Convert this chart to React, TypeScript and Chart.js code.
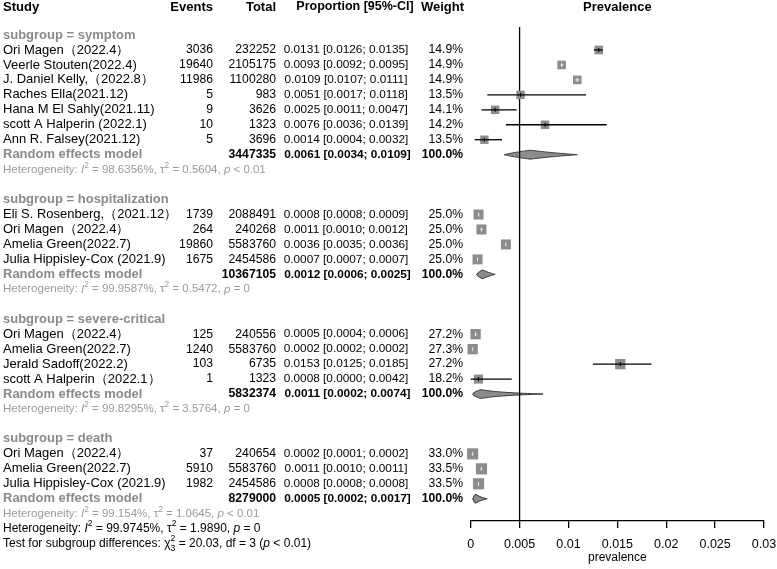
import React, { useEffect, useRef } from "react";
import { Chart, registerables } from "chart.js";

Chart.register(...registerables);

// ---------------- data ----------------
const GROUP_TITLES = ["symptom", "hospitalization", "severe-critical", "death"];

const STUDY_NAMES = [
  "Ori Magen（2022.4）",
  "Veerle Stouten(2022.4)",
  "J. Daniel Kelly,（2022.8）",
  "Raches Ella(2021.12)",
  "Hana M El Sahly(2021.11)",
  "scott A Halperin (2022.1)",
  "Ann R. Falsey(2021.12)",
  "Eli S. Rosenberg,（2021.12）",
  "Ori Magen（2022.4）",
  "Amelia Green(2022.7)",
  "Julia Hippisley-Cox (2021.9)",
  "Ori Magen（2022.4）",
  "Amelia Green(2022.7)",
  "Jerald Sadoff(2022.2)",
  "scott A Halperin（2022.1）",
  "Ori Magen（2022.4）",
  "Amelia Green(2022.7)",
  "Julia Hippisley-Cox (2021.9)",
];
const STUDY_GROUP = [0, 0, 0, 0, 0, 0, 0, 1, 1, 1, 1, 2, 2, 2, 2, 3, 3, 3];
const EVENTS = [3036, 19640, 11986, 5, 9, 10, 5, 1739, 264, 19860, 1675, 125, 1240, 103, 1, 37, 5910, 1982];
const TOTALS = [232252, 2105175, 1100280, 983, 3626, 1323, 3696, 2088491, 240268, 5583760, 2454586, 240556, 5583760, 6735, 1323, 240654, 5583760, 2454586];
const PROPS = [0.0131, 0.0093, 0.0109, 0.0051, 0.0025, 0.0076, 0.0014, 0.0008, 0.0011, 0.0036, 0.0007, 0.0005, 0.0002, 0.0153, 0.0008, 0.0002, 0.0011, 0.0008];
const LOWER = [0.0126, 0.0092, 0.0107, 0.0017, 0.0011, 0.0036, 0.0004, 0.0008, 0.001, 0.0035, 0.0007, 0.0004, 0.0002, 0.0125, 0.0, 0.0001, 0.001, 0.0008];
const UPPER = [0.0135, 0.0095, 0.0111, 0.0118, 0.0047, 0.0139, 0.0032, 0.0009, 0.0012, 0.0036, 0.0007, 0.0006, 0.0002, 0.0185, 0.0042, 0.0002, 0.0011, 0.0008];
const WEIGHTS = [14.9, 14.9, 14.9, 13.5, 14.1, 14.2, 13.5, 25.0, 25.0, 25.0, 25.0, 27.2, 27.3, 27.2, 18.2, 33.0, 33.5, 33.5];

const RE_TOTALS = [3447335, 10367105, 5832374, 8279000];
const RE_EST = [0.0061, 0.0012, 0.0011, 0.0005];
const RE_LOWER = [0.0034, 0.0006, 0.0002, 0.0002];
const RE_UPPER = [0.0109, 0.0025, 0.0074, 0.0017];

const HET_I2 = ["98.6356%", "99.9587%", "99.8295%", "99.154%"];
const HET_TAU2 = ["0.5604", "0.5472", "3.5764", "1.0645"];
const HET_P = ["< 0.01", "= 0", "= 0", "< 0.01"];

const OVERALL_I2 = "99.9745%";
const OVERALL_TAU2 = "1.9890";
const OVERALL_P = "= 0";
const TEST_CHI2 = "20.03";
const TEST_DF = "3";
const TEST_P = "< 0.01";

const X_TICKS = [0, 0.005, 0.01, 0.015, 0.02, 0.025, 0.03];
const X_TICK_LABELS = ["0", "0.005", "0.01", "0.015", "0.02", "0.025", "0.03"];
const REF_VALUE = 0.005;

// ---------------- style / layout ----------------
const FONT = '"Liberation Sans", Arial, Helvetica, sans-serif';
const FS_NAME = 13;
const FS_NUM = 12.2;
const FS_PROP = 11.8;
const FS_HET = 11.5;
const GRAY_TITLE = "#8a8a8a";
const GRAY_HET = "#9a9a9a";
const BOX_FILL = "#8c8c8c";
const Y_MIN = -0.535;
const Y_MAX = 32.487;
const HEADER_ROW = -1.87;

// row assignment
const titleRow: number[] = [];
const reRow: number[] = [];
const hetRow: number[] = [];
const studyRow: number[] = [];
let rr = 0;
GROUP_TITLES.forEach((_, g) => {
  titleRow[g] = rr++;
  STUDY_GROUP.forEach((sg, i) => {
    if (sg === g) studyRow[i] = rr++;
  });
  reRow[g] = rr++;
  hetRow[g] = rr++;
  if (g < GROUP_TITLES.length - 1) rr++;
});
const overallRow = rr;
const testRow = rr + 1;

const sqSide = (w: number) => 6.5 + 0.14 * w;
const isInside = (ciPx: number, i: number) => ciPx < sqSide(WEIGHTS[i]) - 1;

type Run = { t: string; i?: boolean; b?: boolean; sup?: boolean; sub?: string };

const logit = (p: number) => Math.log(p / (1 - p));
const invLogit = (l: number) => 1 / (1 + Math.exp(-l));

function diamondPoints(lo: number, est: number, hi: number, row: number, h: number) {
  const pts: { x: number; y: number }[] = [];
  const N = 24;
  const L0 = logit(lo), Le = logit(est), L1 = logit(hi);
  for (let k = 0; k <= N; k++) {
    const t = k / N;
    pts.push({ x: invLogit(L0 + t * (Le - L0)), y: row - h * t });
  }
  for (let k = 1; k <= N; k++) {
    const t = k / N;
    pts.push({ x: invLogit(Le + t * (L1 - Le)), y: row - h * (1 - t) });
  }
  for (let k = 1; k <= N; k++) {
    const t = k / N;
    pts.push({ x: invLogit(L1 + t * (Le - L1)), y: row + h * t });
  }
  for (let k = 1; k <= N; k++) {
    const t = k / N;
    pts.push({ x: invLogit(Le + t * (L0 - Le)), y: row + h * (1 - t) });
  }
  return pts;
}

export default function App() {
  const ref = useRef<HTMLCanvasElement>(null);

  useEffect(() => {
    document.body.style.margin = "0";
    const canvas = ref.current;
    if (!canvas) return;

    const ciData: any[] = [];
    STUDY_NAMES.forEach((_, i) => {
      ciData.push({ x: LOWER[i], y: studyRow[i] });
      ciData.push({ x: UPPER[i], y: studyRow[i] });
      ciData.push({ x: UPPER[i], y: null });
    });
    const pointData = STUDY_NAMES.map((_, i) => ({ x: PROPS[i], y: studyRow[i] }));

    const ciInside = (chart: any, i: number) => {
      const xs = chart.scales.x;
      const w = xs.getPixelForValue(UPPER[i]) - xs.getPixelForValue(LOWER[i]);
      return isInside(w, i);
    };

    const diamondSets = GROUP_TITLES.map((_, g) => ({
      type: "line" as const,
      data: diamondPoints(RE_LOWER[g], RE_EST[g], RE_UPPER[g], reRow[g], 0.3),
      borderColor: "#3a3a3a",
      borderWidth: 1,
      backgroundColor: BOX_FILL,
      fill: "shape" as any,
      pointRadius: 0,
      tension: 0,
      order: 4,
      clip: false as any,
    }));

    const tablePlugin = {
      id: "forestTable",
      afterDraw(chart: any) {
        const ctx: CanvasRenderingContext2D = chart.ctx;
        const ys = chart.scales.y;
        const xs = chart.scales.x;
        const Y = (r: number) => ys.getPixelForValue(r);
        ctx.save();
        ctx.textBaseline = "middle";

        const setFont = (bold: boolean, italic: boolean, size: number) => {
          ctx.font = `${italic ? "italic " : ""}${bold ? "bold " : ""}${size}px ${FONT}`;
        };
        const text = (s: string, x: number, y: number, align: CanvasTextAlign, bold: boolean, color: string, size: number) => {
          setFont(bold, false, size);
          ctx.fillStyle = color;
          ctx.textAlign = align;
          ctx.fillText(s, x, y);
        };
        const runs = (list: Run[], x: number, y: number, color: string, bold: boolean, size: number) => {
          ctx.fillStyle = color;
          ctx.textAlign = "left";
          let cx = x;
          for (const r of list) {
            if (r.sup) {
              const ss = size * 0.72;
              setFont(r.b ?? bold, !!r.i, ss);
              ctx.fillText(r.t, cx, y - size * 0.38);
              let w = ctx.measureText(r.t).width;
              if (r.sub) {
                ctx.fillText(r.sub, cx, y + size * 0.38);
                w = Math.max(w, ctx.measureText(r.sub).width);
              }
              cx += w;
            } else {
              setFont(r.b ?? bold, !!r.i, size);
              ctx.fillText(r.t, cx, y);
              cx += ctx.measureText(r.t).width;
            }
          }
        };
        const hetRuns = (i2: string, tau2: string, p: string): Run[] => [
          { t: "Heterogeneity: " },
          { t: "I", i: true },
          { t: "2", sup: true },
          { t: ` = ${i2}, ` },
          { t: "τ" },
          { t: "2", sup: true },
          { t: ` = ${tau2}, ` },
          { t: "p", i: true },
          { t: ` ${p}` },
        ];

        const xStudy = 3, xEvents = 213, xTotal = 276, xProp = 346, xWeight = 463;

        // header
        const hy = Y(HEADER_ROW);
        text("Study", xStudy, hy, "left", true, "#000", FS_NAME);
        text("Events", xEvents, hy, "right", true, "#000", FS_NAME);
        text("Total", xTotal, hy, "right", true, "#000", FS_NAME);
        text("Proportion [95%-CI]", 355, hy, "center", true, "#000", 12.5);
        text("Weight", xWeight + 1, hy, "right", true, "#000", FS_NAME);
        text("Prevalence", xs.getPixelForValue((xs.min + xs.max) / 2), hy, "center", true, "#000", FS_NAME);

        GROUP_TITLES.forEach((title, g) => {
          text(`subgroup = ${title}`, xStudy, Y(titleRow[g]), "left", true, GRAY_TITLE, FS_NAME);
          const ry = Y(reRow[g]);
          text("Random effects model", xStudy, ry, "left", true, GRAY_TITLE, FS_NAME);
          text(String(RE_TOTALS[g]), xTotal, ry, "right", true, "#000", FS_NUM);
          text(
            `${RE_EST[g].toFixed(4)} [${RE_LOWER[g].toFixed(4)}; ${RE_UPPER[g].toFixed(4)}]`,
            xProp + 1.5, ry, "center", true, "#000", FS_PROP
          );
          text("100.0%", xWeight, ry, "right", true, "#000", FS_NUM);
          runs(hetRuns(HET_I2[g], HET_TAU2[g], HET_P[g]), xStudy, Y(hetRow[g]), GRAY_HET, false, FS_HET);
        });

        STUDY_NAMES.forEach((name, i) => {
          const y = Y(studyRow[i]);
          text(name, xStudy, y, "left", false, "#000", FS_NAME);
          text(String(EVENTS[i]), xEvents, y, "right", false, "#000", FS_NUM);
          text(String(TOTALS[i]), xTotal, y, "right", false, "#000", FS_NUM);
          text(
            `${PROPS[i].toFixed(4)} [${LOWER[i].toFixed(4)}; ${UPPER[i].toFixed(4)}]`,
            xProp, y, "center", false, "#000", FS_PROP
          );
          text(`${WEIGHTS[i].toFixed(1)}%`, xWeight, y, "right", false, "#000", FS_NUM);
        });

        runs(hetRuns(OVERALL_I2, OVERALL_TAU2, OVERALL_P), xStudy, Y(overallRow), "#000", false, 12);
        runs(
          [
            { t: "Test for subgroup differences: " },
            { t: "χ" },
            { t: "2", sup: true, sub: TEST_DF },
            { t: ` = ${TEST_CHI2}, df = ${TEST_DF} (` },
            { t: "p", i: true },
            { t: ` ${TEST_P})` },
          ],
          xStudy, Y(testRow), "#000", false, 12
        );
        ctx.restore();
      },
    };

    const chart = new Chart(canvas, {
      type: "scatter",
      data: {
        datasets: [
          // point-estimate ticks (top)
          {
            type: "scatter",
            data: pointData,
            pointStyle: "line",
            rotation: 90,
            radius: 2,
            borderWidth: 1,
            borderColor: (c: any) => (ciInside(c.chart, c.dataIndex) ? "#e8e8e8" : "#000"),
            backgroundColor: "#000",
            order: 0,
            clip: false,
          } as any,
          // confidence interval lines
          {
            type: "line",
            data: ciData,
            borderColor: "#000",
            borderWidth: 1.3,
            pointRadius: 0,
            spanGaps: false,
            tension: 0,
            segment: {
              borderColor: (c: any) => {
                const i = Math.floor(c.p0DataIndex / 3);
                const w = c.p1.x - c.p0.x;
                return isInside(w, i) ? "#e8e8e8" : "#000";
              },
            },
            order: 1,
            clip: false,
          } as any,
          // weight boxes
          {
            type: "scatter",
            data: pointData,
            pointStyle: "rect",
            radius: (c: any) => sqSide(WEIGHTS[c.dataIndex]) / (2 * Math.SQRT1_2),
            backgroundColor: BOX_FILL,
            borderWidth: 0,
            borderColor: BOX_FILL,
            order: 2,
            clip: false,
          } as any,
          // reference line
          {
            type: "line",
            data: [
              { x: REF_VALUE, y: Y_MIN },
              { x: REF_VALUE, y: Y_MAX },
            ],
            borderColor: "#000",
            borderWidth: 1.3,
            pointRadius: 0,
            order: 3,
            clip: false,
          } as any,
          ...(diamondSets as any[]),
        ],
      },
      options: {
        responsive: false,
        animation: false,
        devicePixelRatio: 1,
        events: [],
        layout: { autoPadding: false, padding: { left: 470.7, right: 13, top: 27, bottom: 5 } },
        plugins: {
          legend: { display: false },
          tooltip: { enabled: false },
          title: { display: false },
        },
        scales: {
          x: {
            type: "linear",
            position: "bottom",
            min: 0,
            max: 0.03,
            afterBuildTicks: (scale: any) => {
              scale.ticks = X_TICKS.map((v) => ({ value: v }));
            },
            ticks: {
              callback: (_v: any, idx: number) => X_TICK_LABELS[idx],
              color: "#000",
              font: { family: FONT, size: 12.5, lineHeight: 2.72 },
              padding: 0,
              maxRotation: 0,
              autoSkip: false,
            },
            grid: {
              drawOnChartArea: false,
              drawTicks: true,
              tickLength: 7,
              color: "#000",
              lineWidth: 1.3,
            },
            border: { display: true, color: "#000", width: 1.3 },
            title: {
              display: true,
              text: "prevalence",
              color: "#000",
              font: { family: FONT, size: 12, lineHeight: 1 },
              padding: { top: -10, bottom: 0 },
            },
          },
          y: {
            type: "linear",
            display: false,
            reverse: true,
            min: Y_MIN,
            max: Y_MAX,
          },
        },
      } as any,
      plugins: [tablePlugin],
    });

    return () => chart.destroy();
  }, []);

  return (
    <div style={{ width: 777, height: 569, background: "#fff" }}>
      <canvas ref={ref} width={777} height={569} style={{ display: "block" }} />
    </div>
  );
}
